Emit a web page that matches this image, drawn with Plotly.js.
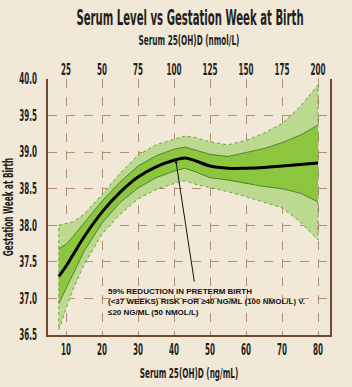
<!DOCTYPE html>
<html>
<head>
<meta charset="utf-8">
<script src="https://cdn.plot.ly/plotly-3.0.1.min.js"></script>
<style>
  html, body { margin: 0; padding: 0; background: #f1e8d7; }
  #chart { width: 352px; height: 387px; }
</style>
</head>
<body>
<div id="chart"></div>
<script>
// Serum 25(OH)D in ng/mL
const serumNg = [8, 10, 12, 15, 20, 25, 30, 35, 40, 43, 46, 50, 55, 60, 65, 70, 75, 80];
// Fitted gestation week at birth
const fitWeek = [37.30, 37.44, 37.60, 37.84, 38.18, 38.45, 38.66, 38.80, 38.89, 38.92, 38.88, 38.81, 38.78, 38.78, 38.79, 38.81, 38.83, 38.85];
// Inner (darker) band
const innerUpper = [37.68, 37.74, 37.85, 38.03, 38.33, 38.59, 38.81, 38.95, 39.04, 39.07, 39.03, 38.97, 38.94, 39.00, 39.05, 39.13, 39.23, 39.37];
const innerLower = [36.93, 37.13, 37.34, 37.64, 38.03, 38.31, 38.51, 38.65, 38.74, 38.78, 38.73, 38.65, 38.62, 38.57, 38.53, 38.50, 38.44, 38.32];
// Outer (lighter) band
const outerUpper = [38.00, 38.02, 38.05, 38.15, 38.42, 38.71, 38.96, 39.10, 39.18, 39.22, 39.20, 39.14, 39.10, 39.16, 39.26, 39.39, 39.62, 39.92];
const outerLower = [36.57, 36.86, 37.13, 37.46, 37.88, 38.15, 38.36, 38.49, 38.57, 38.61, 38.56, 38.51, 38.46, 38.39, 38.32, 38.24, 38.05, 37.80];
// Tick labels
const bottomTicks = [10, 20, 30, 40, 50, 60, 70, 80];
const topTicks = [25, 50, 75, 100, 125, 150, 175, 200];
const yTicks = [36.5, 37.0, 37.5, 38.0, 38.5, 39.0, 39.5, 40.0];

const ngToNmol = 2.5;
const condFont = "'DejaVu Sans', sans-serif";
const ink = '#231f20';
const brown = '#6e4b30';
const grid = '#b38e70';

const polyX = serumNg.concat(serumNg.slice().reverse(), [serumNg[0]]);
const outerPolyY = outerUpper.concat(outerLower.slice().reverse(), [outerUpper[0]]);
const innerPolyY = innerUpper.concat(innerLower.slice().reverse(), [innerUpper[0]]);

const traces = [
  { x: polyX, y: outerPolyY, type: 'scatter', mode: 'lines', fill: 'toself',
    fillcolor: '#bcda8f', line: { color: '#4f8a2c', width: 0.8, dash: 'dot' },
    hoverinfo: 'skip', showlegend: false },
  { x: polyX, y: innerPolyY, type: 'scatter', mode: 'lines', fill: 'toself',
    fillcolor: '#8cc63f', line: { width: 0 }, hoverinfo: 'skip', showlegend: false },
  { x: serumNg, y: innerUpper, type: 'scatter', mode: 'lines',
    line: { color: '#3f6e24', width: 0.8 }, showlegend: false },
  { x: serumNg, y: innerLower, type: 'scatter', mode: 'lines',
    line: { color: '#3f6e24', width: 0.8 }, showlegend: false },
  { x: serumNg, y: fitWeek, type: 'scatter', mode: 'lines',
    line: { color: '#000000', width: 3, shape: 'spline' }, showlegend: false, name: 'Fit' },
  { x: serumNg.map(v => v * ngToNmol), y: fitWeek, xaxis: 'x2', type: 'scatter', mode: 'lines',
    line: { width: 0 }, opacity: 0, hoverinfo: 'skip', showlegend: false }
];

const tickFont = { family: condFont, size: 15, color: ink, weight: 'bold' };
const axTitleFont = { family: condFont, size: 14, color: ink, weight: 'bold' };

const layout = {
  width: 352, height: 387,
  margin: { l: 48, r: 22, t: 79, b: 52 },
  paper_bgcolor: '#f1e8d7',
  plot_bgcolor: '#f1e8d7',
  font: { family: condFont, color: ink },
  title: { text: 'Serum Level vs Gestation Week at Birth',
    font: { family: condFont, size: 22, color: ink, weight: 'bold' },
    x: 0.54, xref: 'container', xanchor: 'center', y: 0.955, yref: 'container', yanchor: 'middle' },
  xaxis: {
    range: [5, 83.33], tickvals: bottomTicks, ticktext: bottomTicks.map(String),
    showgrid: true, gridcolor: grid, griddash: 'dash', gridwidth: 1,
    showline: true, linecolor: brown, linewidth: 2, zeroline: false, ticks: '',
    tickfont: tickFont,
    title: { text: 'Serum 25(OH)D (ng/mL)', font: axTitleFont, standoff: 10 }
  },
  xaxis2: {
    overlaying: 'x', side: 'top', range: [5 * ngToNmol, 83.33 * ngToNmol],
    tickvals: topTicks, ticktext: topTicks.map(String), showgrid: false,
    showline: false, zeroline: false, ticks: '',
    tickfont: tickFont,
    title: { text: 'Serum 25(OH)D (nmol/L)', font: axTitleFont, standoff: 12 }
  },
  yaxis: {
    range: [36.5, 40.0], tickvals: yTicks, ticktext: yTicks.map(v => v.toFixed(1)),
    showgrid: true, gridcolor: grid, griddash: 'dash', gridwidth: 1,
    showline: true, mirror: true, linecolor: brown, linewidth: 2, zeroline: false, ticks: '',
    tickfont: tickFont, ticklabelstandoff: 6,
    title: { text: 'Gestation Week at Birth', font: axTitleFont, standoff: 4 }
  },
  annotations: [
    { x: 40.5, y: 38.89, ax: 45.7, ay: 37.21, axref: 'x', ayref: 'y', xref: 'x', yref: 'y',
      text: '', showarrow: true, arrowhead: 2, arrowsize: 0.6, arrowwidth: 1, arrowcolor: '#111' },
    { x: 21.2, y: 37.19, xref: 'x', yref: 'y', xanchor: 'left', yanchor: 'top', align: 'left',
      showarrow: false,
      text: '<b>59% REDUCTION IN PRETERM BIRTH<br>(&lt;37 WEEKS) RISK FOR ≥40 NG/ML (100 NMOL/L) V.<br>≤20 NG/ML (50 NMOL/L)</b>',
      font: { family: "'Liberation Sans', Arial, sans-serif", size: 8, color: '#111' } }
  ]
};

// Narrow the heavy display type horizontally (the reference uses a condensed face)
function squeeze(root, selector, s) {
  root.querySelectorAll(selector).forEach(t => {
    const x = parseFloat(t.getAttribute('x')) || 0;
    const y = parseFloat(t.getAttribute('y')) || 0;
    const prev = t.getAttribute('transform') || '';
    t.setAttribute('transform', prev + ' translate(' + x + ',' + y + ') scale(' + s + ',1) translate(' + (-x) + ',' + (-y) + ')');
  });
}
// Centre a text horizontally on a pixel column after squeezing
function centreOn(root, selector, cx) {
  const t = root.querySelector(selector);
  if (!t) return;
  const svgRect = root.querySelector('.main-svg').getBoundingClientRect();
  const r = t.getBoundingClientRect();
  const dx = cx - ((r.left + r.right) / 2 - svgRect.left);
  const prev = t.getAttribute('transform') || '';
  t.setAttribute('transform', 'translate(' + dx + ',0) ' + prev);
}

const gd = document.getElementById('chart');
Plotly.newPlot(gd, traces, layout, { displayModeBar: false, staticPlot: true }).then(() => {
  squeeze(gd, 'text.gtitle', 0.46);
  centreOn(gd, 'text.gtitle', 190);
  squeeze(gd, 'text.xtitle, text.x2title, text.ytitle', 0.52);
  squeeze(gd, 'g.xtick > text, g.x2tick > text, g.ytick > text', 0.48);
});
</script>
</body>
</html>
